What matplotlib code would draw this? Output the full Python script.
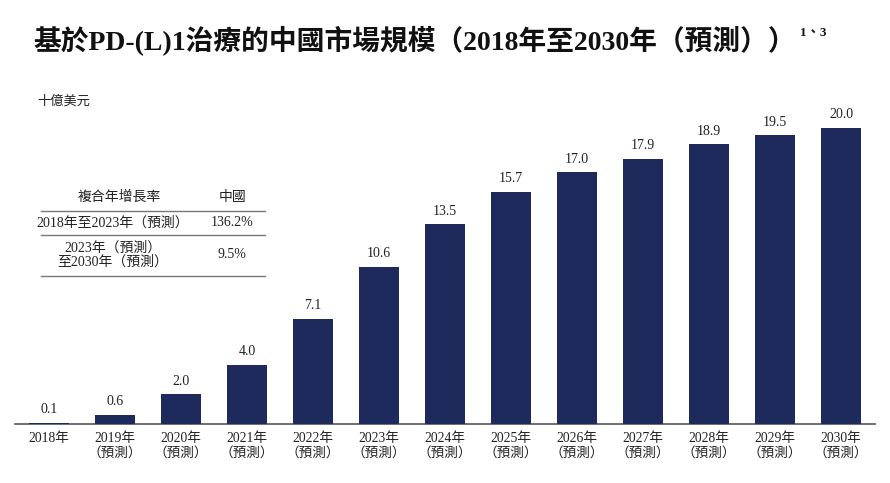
import matplotlib
matplotlib.use("Agg")
from matplotlib import pyplot as plt

years = ["2018年", "2019年", "2020年", "2021年", "2022年", "2023年", "2024年",
         "2025年", "2026年", "2027年", "2028年", "2029年", "2030年"]
values = [0.1, 0.6, 2.0, 4.0, 7.1, 10.6, 13.5, 15.7, 17.0, 17.9, 18.9, 19.5, 20.0]
forecast = [False] + [True] * 12

cagr_header = ["複合年增長率", "中國"]
cagr_periods = ["2018年至2023年（預測）", "2023年（預測）\n至2030年（預測）"]
cagr_values = ["136.2%", "9.5%"]

FONT = ["Liberation Serif", "Noto Sans CJK TC", "DejaVu Sans"]
plt.rcParams["font.family"] = FONT
BAR = "#1f2a5c"
TXT = "#222222"

W, H = 890, 483
fig = plt.figure(figsize=(W / 100, H / 100), dpi=100)

# axes in pixel terms: left 15, right 875, baseline 424, top 100
ax = fig.add_axes([15 / W, (H - 424) / H, 860 / W, 324 / H])
x = list(range(len(values)))
ax.bar(x, values, width=0.6, color=BAR, zorder=3)
ax.set_xlim(-0.515, 12.515)
ax.set_ylim(0, 20 * 324 / 296)
for i, v in enumerate(values):
    ax.text(i, v + 0.45, f"{v:.1f}", ha="center", va="bottom", fontsize=10, color=TXT)
for i, y in enumerate(years):
    lab = y + ("\n（預測）" if forecast[i] else "")
    ax.text(i, -0.55, lab, ha="center", va="top", fontsize=9.8, color=TXT, linespacing=1.2)
for s in ["top", "right", "left"]:
    ax.spines[s].set_visible(False)
ax.spines["bottom"].set_color("#555555")
ax.spines["bottom"].set_linewidth(1.2)
ax.spines["bottom"].set_zorder(2)
ax.set_xticks([])
ax.set_yticks([])

# title
title = fig.text(33 / W, 1 - 40 / H, "基於PD-(L)1治療的中國市場規模（2018年至2030年（預測））",
                 fontsize=20, fontweight="bold", ha="left", va="center", color="#111111")
fig.canvas.draw()
bb = title.get_window_extent()
fig.text((bb.x1 + 4) / W, 1 - 33 / H, "1、3", fontsize=9.5, fontweight="bold", ha="left",
         va="center", color="#111111")
fig.text(37 / W, 1 - 101 / H, "十億美元", fontsize=9.5, ha="left", va="center", color=TXT)

# CAGR table
fig.text(119 / W, 1 - 197 / H, cagr_header[0], fontsize=10, ha="center", va="center", color=TXT)
fig.text(233 / W, 1 - 197 / H, cagr_header[1], fontsize=10, ha="center", va="center", color=TXT)
row_y = [223, 255]
for py, per, val in zip(row_y, cagr_periods, cagr_values):
    fig.text(113 / W, 1 - py / H, per, fontsize=10, ha="center", va="center",
             color=TXT, linespacing=1.15, multialignment="center")
    fig.text(232 / W, 1 - py / H, val, fontsize=10, ha="center", va="center", color=TXT)
for ly in [211, 235, 276]:
    fig.add_artist(plt.Line2D([41 / W, 265 / W], [1 - ly / H, 1 - ly / H],
                              color="#777777", linewidth=1.0))

fig.savefig("out.png", dpi=100)
